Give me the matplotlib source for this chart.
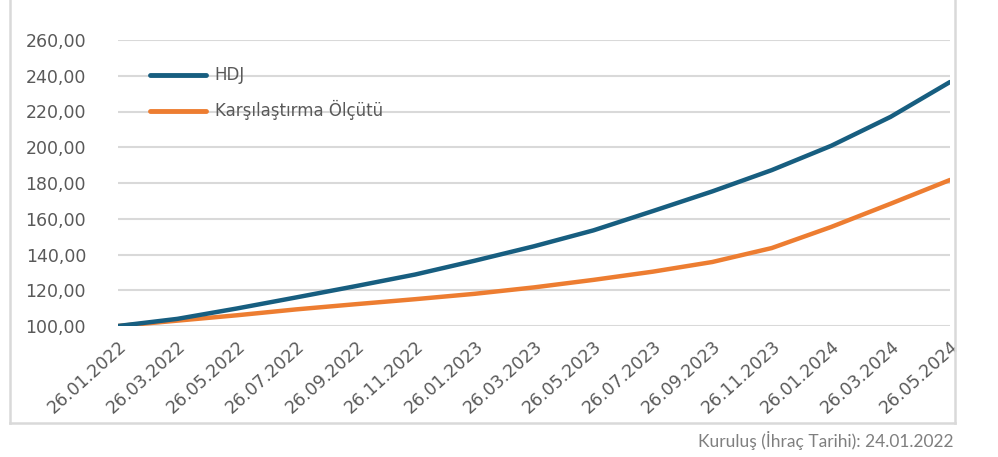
import matplotlib.pyplot as plt
from matplotlib.lines import Line2D

# tarihler (iki ayda bir) ve okunan değerler
tarihler = ['26.01.2022', '26.03.2022', '26.05.2022', '26.07.2022', '26.09.2022',
            '26.11.2022', '26.01.2023', '26.03.2023', '26.05.2023', '26.07.2023',
            '26.09.2023', '26.11.2023', '26.01.2024', '26.03.2024', '26.05.2024']
hdj = [100.0, 104.0, 109.8, 116.0, 122.3, 128.8, 136.5, 144.6, 153.5, 164.3,
       175.3, 187.2, 200.8, 217.0, 236.5]
olcut = [100.0, 103.0, 106.0, 109.3, 112.2, 115.0, 118.0, 121.6, 125.8, 130.4,
         135.8, 143.6, 155.4, 168.4, 181.7]
y_ticks = [100, 120, 140, 160, 180, 200, 220, 240, 260]

mavi = '#175E80'
turuncu = '#ED7D31'
gri = '#595959'

fig = plt.figure(figsize=(9.98, 4.57), dpi=100)
W, H = 998, 457
ax = fig.add_axes([118 / W, 1 - 326 / H, (950 - 118) / W, (326 - 40) / H])

x = list(range(len(tarihler)))
ax.plot(x, hdj, color=mavi, lw=3.2, solid_capstyle='round', label='HDJ', zorder=3)
ax.plot(x, olcut, color=turuncu, lw=3.2, solid_capstyle='round',
        label='Karşılaştırma Ölçütü', zorder=2)

ax.set_xlim(0, len(tarihler) - 1)
ax.set_ylim(100, 260)
ax.set_yticks(y_ticks)
ax.set_yticklabels([f'{v:.2f}'.replace('.', ',') for v in y_ticks],
                   fontsize=12.5, color=gri)
ax.set_xticks(x)
ax.set_xticklabels(tarihler, rotation=42, ha='right', rotation_mode='anchor',
                   fontsize=12.5, color=gri)
ax.tick_params(length=0)
ax.tick_params(axis='y', pad=23)
ax.tick_params(axis='x', pad=8)
ax.grid(axis='y', color='#D9D9D9', lw=1.5)
ax.set_axisbelow(True)
for s in ax.spines.values():
    s.set_visible(False)

leg = ax.legend(loc='upper left', bbox_to_anchor=(0.02, 0.96), frameon=False,
                fontsize=12, handlelength=3.4, handletextpad=0.5,
                labelspacing=0.95, labelcolor=gri)
for h in leg.get_lines():
    h.set_linewidth(3.5)

# çerçeve
kenar = '#D9D9D9'
fig.add_artist(Line2D([10 / W, 10 / W], [1, 1 - 423 / H], color=kenar, lw=1.8))
fig.add_artist(Line2D([10 / W, 955 / W], [1 - 423 / H, 1 - 423 / H], color=kenar, lw=1.8))
fig.add_artist(Line2D([955 / W, 955 / W], [1, 1 - 423 / H], color=kenar, lw=1.8))

fig.text(953 / W, 1 - 441 / H, 'Kuruluş (İhraç Tarihi): 24.01.2022',
         ha='right', va='center', fontsize=12.5, color='#7F7F7F', family='Lato')

fig.savefig('out.png', dpi=100)
